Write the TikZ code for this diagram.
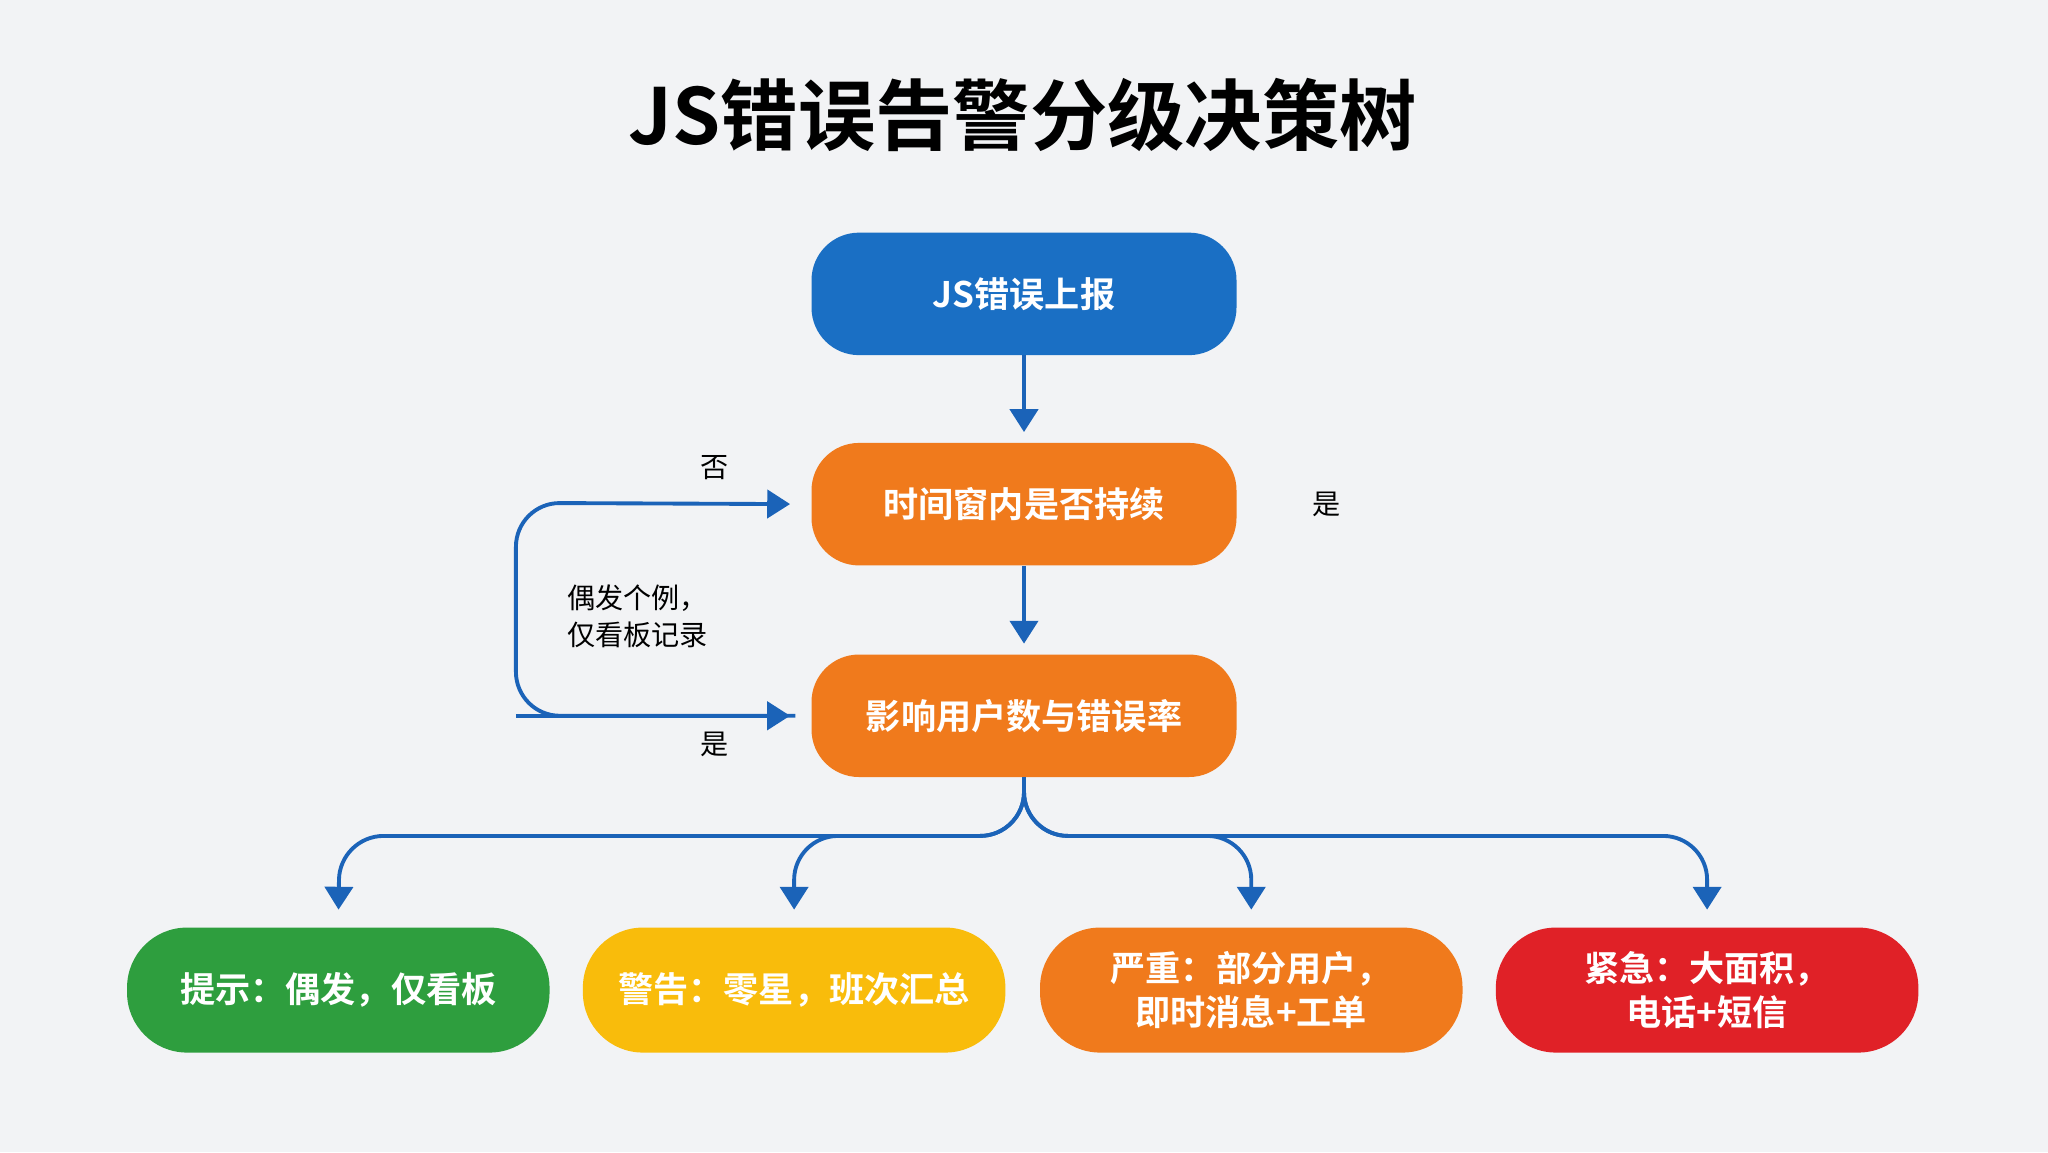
\documentclass[tikz,border=0pt]{standalone}
\usepackage{fontspec}
\setmainfont{Noto Sans CJK SC}[BoldFont={Noto Sans CJK SC Bold}]
\usetikzlibrary{arrows.meta}
\definecolor{bg}{HTML}{F2F3F5}
\definecolor{cblue}{HTML}{1A6FC4}
\definecolor{corange}{HTML}{F07A1C}
\definecolor{cgreen}{HTML}{2E9E3E}
\definecolor{cyellow}{HTML}{F9BC0B}
\definecolor{cred}{HTML}{E02127}
\definecolor{lblue}{HTML}{1B63B8}
\begin{document}
\begin{tikzpicture}[x=0.02612cm,y=-0.02612cm,
  box/.style={rounded corners=0.95cm,minimum width=8.5cm,minimum height=2.45cm,inner sep=0pt,align=center,text=white,font=\bfseries\fontsize{20}{25}\selectfont},
  leaf/.style={box,minimum width=8.45cm,minimum height=2.5cm,rounded corners=1.2cm},
  arr/.style={lblue,line width=2.2pt,-{Triangle[width=16pt,length=13pt]}},
  lbl/.style={font=\fontsize{16}{21}\selectfont,align=left}]
\fill[bg] (0,0) rectangle (1568,882);
\node[font=\bfseries\fontsize{44}{50}\selectfont] (title) at (783,88) {JS错误告警分级决策树};
\node[box,fill=cblue] (n1) at (784,225) {JS错误上报};
\node[box,fill=corange] (n2) at (784,386) {时间窗内是否持续};
\node[box,fill=corange] (n3) at (784,548) {影响用户数与错误率};
\node[leaf,fill=cgreen] (b1) at (259,758) {提示：偶发，仅看板};
\node[leaf,fill=cyellow] (b2) at (608,758) {警告：零星，班次汇总};
\node[leaf,fill=corange] (b3) at (958,758) {严重：部分用户，\\即时消息+工单};
\node[leaf,fill=cred] (b4) at (1307,758) {紧急：大面积，\\电话+短信};
\draw[arr,shorten >=6pt] (n1) -- (n2);
\draw[arr,shorten >=6pt] (n2) -- (n3);
\coordinate (l1) at (395,385);
\coordinate (l2) at (395,548);
\draw[arr,shorten >=12pt,rounded corners=25] (n3.west) ++(-12,0) -- (l2) -- (l1) -- (n2.west);
\draw[arr,shorten >=12pt] (l2) -- (n3.west);
\node[lbl] (no) at (547,358) {否};
\node[lbl] (yes1) at (547,570) {是};
\node[lbl] (yes2) at (1016,386) {是};
\node[lbl] (note) at (488,472) {偶发个例，\\仅看板记录};
\foreach \b/\x in {b1/260,b2/608,b3/958,b4/1307}{
  \coordinate (j\b) at (\x,640);
  \draw[arr,rounded corners=25,shorten >=10pt] (n3.south) |- (j\b) -- (\b.north);
}
\end{tikzpicture}
\end{document}
